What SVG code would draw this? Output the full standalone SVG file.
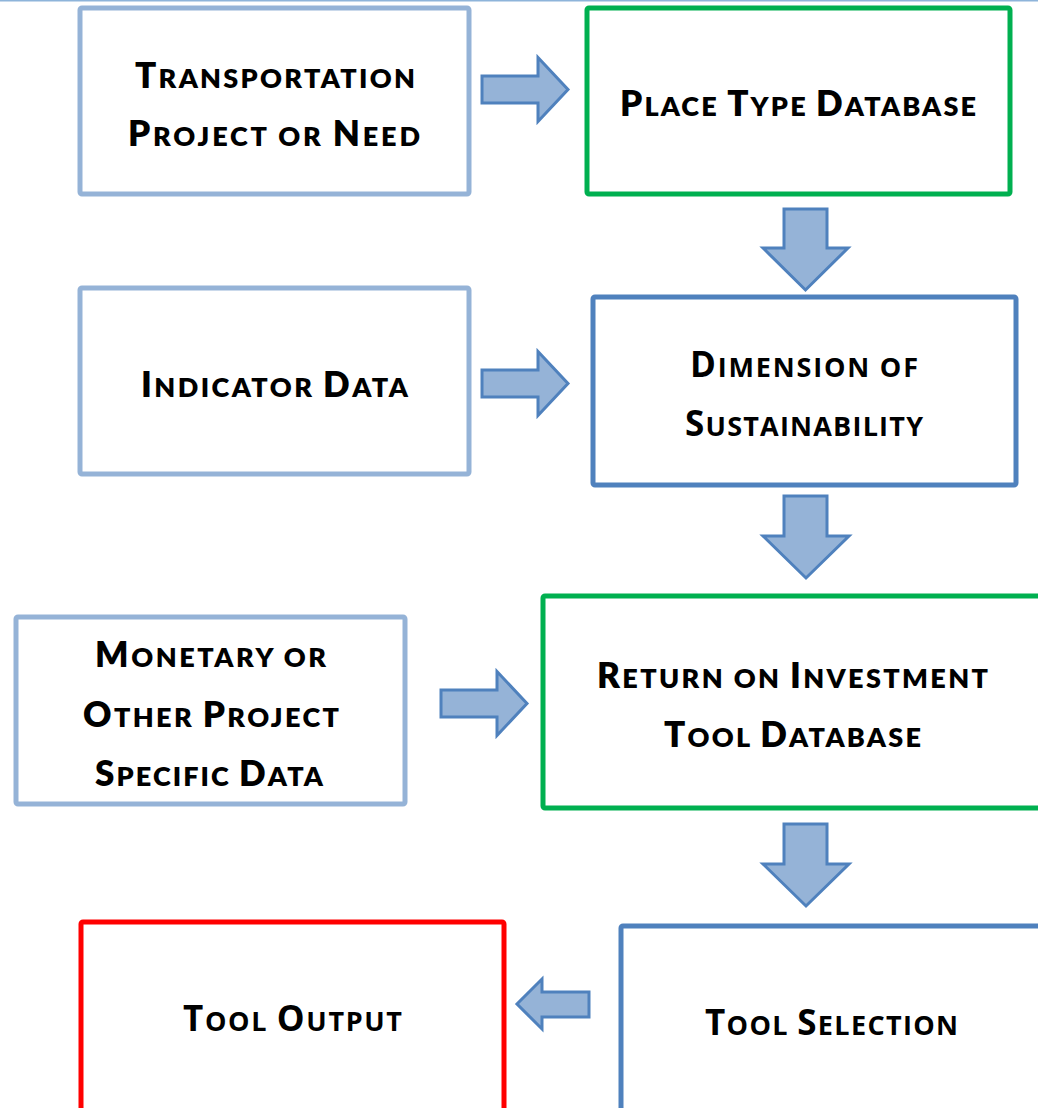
<svg xmlns="http://www.w3.org/2000/svg" width="1038" height="1108" viewBox="0 0 1038 1108">
  <style>
    .box { fill: #ffffff; stroke-width: 5; }
    .input { stroke: #95B3D7; }
    .db { stroke: #00B050; }
    .step { stroke: #4F81BD; }
    .out { stroke: #FF0000; }
    .arrow { fill: #95B3D7; stroke: #4F81BD; stroke-width: 3; stroke-linejoin: miter; }
    .lbl { font-family: Lato, "Liberation Sans", sans-serif; font-weight: 800; fill: #000000; text-anchor: middle; }
    .lbl2 { font-family: "Open Sans", "Liberation Sans", sans-serif; font-weight: 700; fill: #000000; text-anchor: middle; }
    .c { font-size: 35px; }
    .s { font-size: 27px; }
  </style>
  <rect width="1038" height="1108" fill="#ffffff"/>
  <line x1="0" y1="0.8" x2="1038" y2="0.8" stroke="#8EB4DA" stroke-width="1.5"/>

  <g id="connectors">
    <path class="arrow" d="M482,76 L538,76 L538,57.5 L568,89.5 L538,121.5 L538,103 L482,103 Z"/>
    <path class="arrow" d="M784,209 L827,209 L827,248 L848,248 L805.5,290 L763,248 L784,248 Z"/>
    <path class="arrow" d="M482,370 L538,370 L538,351.5 L568,383.5 L538,415.5 L538,397 L482,397 Z"/>
    <path class="arrow" d="M784,496 L827,496 L827,536 L849,536 L806,578 L763,536 L784,536 Z"/>
    <path class="arrow" d="M441,690 L497,690 L497,671.5 L527,703.5 L497,735.5 L497,717 L441,717 Z"/>
    <path class="arrow" d="M784,824 L827,824 L827,864 L849,864 L806,906 L763,864 L784,864 Z"/>
    <path class="arrow" d="M589,992 L542,992 L542,979 L517,1004 L542,1029 L542,1017 L589,1017 Z"/>
  </g>

  <g id="transportation-project">
    <rect class="box input" x="80" y="8" width="389" height="186" rx="2"/>
    <text class="lbl" x="275" y="88" textLength="280" lengthAdjust="spacing"><tspan class="c">T</tspan><tspan class="s">RANSPORTATION</tspan></text>
    <text class="lbl" x="274" y="146" textLength="292" lengthAdjust="spacing"><tspan class="c">P</tspan><tspan class="s">ROJECT OR </tspan><tspan class="c">N</tspan><tspan class="s">EED</tspan></text>
  </g>

  <g id="place-type-database">
    <rect class="box db" x="587" y="8" width="423" height="186" rx="2"/>
    <text class="lbl" x="798" y="116" textLength="356" lengthAdjust="spacing"><tspan class="c">P</tspan><tspan class="s">LACE </tspan><tspan class="c">T</tspan><tspan class="s">YPE </tspan><tspan class="c">D</tspan><tspan class="s">ATABASE</tspan></text>
  </g>

  <g id="indicator-data">
    <rect class="box input" x="80" y="288" width="389" height="186" rx="2"/>
    <text class="lbl" x="274.5" y="397" textLength="267" lengthAdjust="spacing"><tspan class="c">I</tspan><tspan class="s">NDICATOR </tspan><tspan class="c">D</tspan><tspan class="s">ATA</tspan></text>
  </g>

  <g id="dimension-of-sustainability">
    <rect class="box step" x="593" y="297" width="423" height="188" rx="2"/>
    <text class="lbl2" x="804" y="377" textLength="228" lengthAdjust="spacing"><tspan class="c">D</tspan><tspan class="s">IMENSION OF</tspan></text>
    <text class="lbl2" x="804" y="436" textLength="238" lengthAdjust="spacing"><tspan class="c">S</tspan><tspan class="s">USTAINABILITY</tspan></text>
  </g>

  <g id="monetary-data">
    <rect class="box input" x="16" y="617" width="389" height="187" rx="2"/>
    <text class="lbl" x="210.5" y="667" textLength="231" lengthAdjust="spacing"><tspan class="c">M</tspan><tspan class="s">ONETARY OR</tspan></text>
    <text class="lbl" x="211" y="727" textLength="256" lengthAdjust="spacing"><tspan class="c">O</tspan><tspan class="s">THER </tspan><tspan class="c">P</tspan><tspan class="s">ROJECT</tspan></text>
    <text class="lbl" x="209" y="786" textLength="228" lengthAdjust="spacing"><tspan class="c">S</tspan><tspan class="s">PECIFIC </tspan><tspan class="c">D</tspan><tspan class="s">ATA</tspan></text>
  </g>

  <g id="roi-tool-database">
    <rect class="box db" x="543" y="596" width="510" height="212" rx="2"/>
    <text class="lbl" x="792.5" y="688" textLength="391" lengthAdjust="spacing"><tspan class="c">R</tspan><tspan class="s">ETURN ON </tspan><tspan class="c">I</tspan><tspan class="s">NVESTMENT</tspan></text>
    <text class="lbl" x="792.5" y="747" textLength="257" lengthAdjust="spacing"><tspan class="c">T</tspan><tspan class="s">OOL </tspan><tspan class="c">D</tspan><tspan class="s">ATABASE</tspan></text>
  </g>

  <g id="tool-selection">
    <rect class="box step" x="621" y="926" width="440" height="200" rx="2"/>
    <text class="lbl2" x="831.5" y="1035" textLength="253" lengthAdjust="spacing"><tspan class="c">T</tspan><tspan class="s">OOL </tspan><tspan class="c">S</tspan><tspan class="s">ELECTION</tspan></text>
  </g>

  <g id="tool-output">
    <rect class="box out" x="81" y="922" width="423" height="200" rx="2"/>
    <text class="lbl2" x="292.5" y="1031" textLength="219" lengthAdjust="spacing"><tspan class="c">T</tspan><tspan class="s">OOL </tspan><tspan class="c">O</tspan><tspan class="s">UTPUT</tspan></text>
  </g>
</svg>
